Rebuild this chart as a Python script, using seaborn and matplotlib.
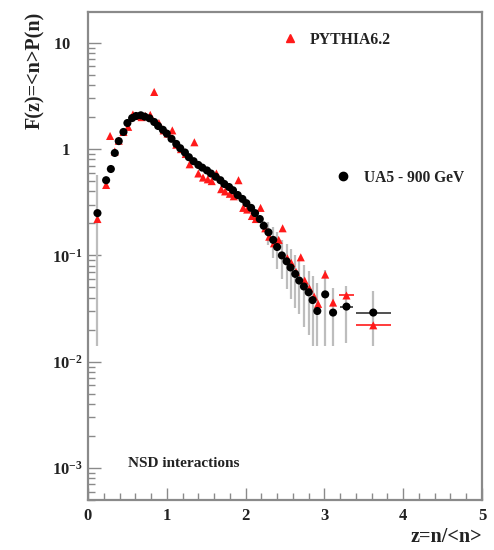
import numpy as np
import pandas as pd
import matplotlib
matplotlib.use("Agg")
import matplotlib.pyplot as plt
import matplotlib.transforms as mtransforms
import seaborn as sns
from matplotlib.ticker import FixedLocator, FixedFormatter, MultipleLocator, LogLocator, NullFormatter
from matplotlib.lines import Line2D

# ---------------- data ----------------
ua5_z = [0.12, 0.23, 0.29, 0.34, 0.39, 0.45, 0.50, 0.56, 0.61, 0.67, 0.72, 0.78, 0.84, 0.89,
         0.95, 1.00, 1.06, 1.12, 1.17, 1.23, 1.28, 1.34, 1.40, 1.45, 1.51, 1.56, 1.62, 1.68,
         1.73, 1.79, 1.84, 1.90, 1.96, 2.01, 2.07, 2.12, 2.18, 2.23, 2.29, 2.35, 2.40, 2.46,
         2.52, 2.57, 2.63, 2.68, 2.74, 2.80, 2.85, 2.91, 3.01, 3.11, 3.28, 3.62]
ua5_F = [0.25, 0.51, 0.65, 0.92, 1.19, 1.45, 1.76, 1.96, 2.05, 2.08, 2.02, 1.95, 1.80, 1.65,
         1.52, 1.40, 1.25, 1.12, 1.02, 0.93, 0.84, 0.77, 0.71, 0.67, 0.63, 0.59, 0.55, 0.51,
         0.47, 0.44, 0.41, 0.37, 0.34, 0.31, 0.28, 0.25, 0.22, 0.19, 0.165, 0.14, 0.12, 0.10,
         0.088, 0.077, 0.067, 0.058, 0.051, 0.045, 0.038, 0.030, 0.043, 0.029, 0.033, 0.029]
ua5_yerr = [0.32, 0.02, 0.02, 0.02, 0.02, 0.02, 0.02, 0.02, 0.02, 0.02, 0.02, 0.02, 0.02, 0.02,
            0.02, 0.02, 0.02, 0.02, 0.02, 0.02, 0.02, 0.02, 0.02, 0.02, 0.02, 0.02, 0.02, 0.02,
            0.02, 0.02, 0.02, 0.02, 0.02, 0.02, 0.02, 0.02, 0.02, 0.02, 0.04, 0.045, 0.045, 0.04,
            0.04, 0.038, 0.035, 0.03, 0.03, 0.027, 0.026, 0.025, 0.03, 0.02, 0.018, 0.017]
ua5_xerr = [0]*52 + [0.08, 0.22]

py_z = [0.12, 0.23, 0.28, 0.34, 0.39, 0.45, 0.51, 0.57, 0.62, 0.68, 0.73, 0.79, 0.84, 0.90,
        0.96, 1.01, 1.07, 1.12, 1.18, 1.24, 1.29, 1.35, 1.40, 1.46, 1.52, 1.57, 1.63, 1.69,
        1.74, 1.80, 1.85, 1.91, 1.97, 2.02, 2.08, 2.13, 2.19, 2.25, 2.30, 2.36, 2.42, 2.47,
        2.53, 2.58, 2.64, 2.70, 2.75, 2.81, 2.87, 2.92, 3.01, 3.11, 3.28, 3.62]
py_F = [0.22, 0.46, 1.33, 0.95, 1.20, 1.45, 1.62, 2.12, 2.05, 2.00, 2.05, 2.10, 3.45, 1.76,
        1.50, 1.40, 1.50, 1.10, 1.00, 0.90, 0.72, 1.16, 0.59, 0.54, 0.52, 0.50, 0.59, 0.42,
        0.40, 0.38, 0.36, 0.51, 0.28, 0.27, 0.235, 0.22, 0.28, 0.18, 0.15, 0.13, 0.14, 0.18,
        0.094, 0.085, 0.070, 0.096, 0.058, 0.049, 0.041, 0.035, 0.066, 0.036, 0.042, 0.022]
py_xerr = [0]*52 + [0.10, 0.22]

series_names = ["PYTHIA6.2", "UA5 - 900 GeV"]
x_ticks = [0, 1, 2, 3, 4, 5]
y_ticks = [1e-3, 1e-2, 1e-1, 1, 10]
y_tick_labels = [r"$10^{-3}$", r"$10^{-2}$", r"$10^{-1}$", r"$1$", r"$10$"]

df = pd.concat([
    pd.DataFrame({"z": py_z, "F": py_F, "series": series_names[0]}),
    pd.DataFrame({"z": ua5_z, "F": ua5_F, "series": series_names[1]}),
], ignore_index=True)

# ---------------- style ----------------
sns.set_style("white")
plt.rcParams["font.family"] = ["Liberation Serif", "DejaVu Serif"]
plt.rcParams["font.weight"] = "bold"
plt.rcParams["mathtext.fontset"] = "custom"
plt.rcParams["mathtext.rm"] = "Liberation Serif:bold"
plt.rcParams["mathtext.it"] = "Liberation Serif:bold"
plt.rcParams["mathtext.bf"] = "Liberation Serif:bold"

RED = "#ff1a1a"
GRAY = "#bdbdbd"
AX = "#8a8a8a"
TXT = "#222222"

fig = plt.figure(figsize=(4.94, 5.5), dpi=100)
ax = fig.add_axes([88/494, 1-500/550, (482-88)/494, (500-12)/550])
ax.set_yscale("log")

# error bars
ua5_F_arr = np.array(ua5_F)
ua5_yerr_arr = np.array(ua5_yerr)
lo = np.minimum(ua5_yerr_arr, ua5_F_arr - 0.014)
ax.errorbar(ua5_z, ua5_F, yerr=[lo, ua5_yerr_arr], fmt="none", ecolor=GRAY, elinewidth=1.6, capsize=0, zorder=1)
ax.errorbar(ua5_z, ua5_F, xerr=ua5_xerr, fmt="none", ecolor="#333333", elinewidth=1.2, capsize=0, zorder=1)
ax.errorbar(py_z, py_F, xerr=py_xerr, fmt="none", ecolor=RED, elinewidth=1.2, capsize=0, zorder=1)

sns.scatterplot(data=df, x="z", y="F", hue="series", style="series",
                palette={series_names[0]: RED, series_names[1]: "black"},
                markers={series_names[0]: "^", series_names[1]: "o"},
                s=34, edgecolor="none", linewidth=0, legend=False, ax=ax, zorder=3)

ax.set_xlim(0, 5)
ax.set_ylim(5e-4, 19.5)

# axes frame
for side in ["top", "right", "left", "bottom"]:
    ax.spines[side].set_color(AX)
    ax.spines[side].set_linewidth(1.6)

ax.xaxis.set_major_locator(FixedLocator(x_ticks))
ax.xaxis.set_minor_locator(MultipleLocator(0.2))
ax.yaxis.set_major_locator(FixedLocator(y_ticks))
ax.yaxis.set_major_formatter(FixedFormatter(y_tick_labels))
ax.yaxis.set_minor_locator(LogLocator(base=10, subs=np.arange(2, 10)))
ax.yaxis.set_minor_formatter(NullFormatter())
ax.tick_params(axis="both", which="both", direction="in", color=AX, width=1.0,
               left=True, bottom=True, top=False, right=False, labelsize=12, labelcolor=TXT)
ax.tick_params(axis="both", which="major", length=9)
ax.tick_params(axis="both", which="minor", length=5)
ax.tick_params(axis="x", pad=6)
ax.tick_params(axis="y", pad=4)

# shift the plain "1" and "10" labels left so they line up like the reference
fig.canvas.draw()
for tick in ax.yaxis.get_major_ticks():
    if tick.get_loc() >= 1:
        lab = tick.label1
        lab.set_transform(lab.get_transform() +
                          mtransforms.ScaledTranslation(-12/100, 0, fig.dpi_scale_trans))

ax.set_xlabel("z=n/<n>", fontsize=14.5, fontweight="bold", loc="right", color=TXT)
ax.xaxis.set_label_coords(1.0, -0.056)
ax.set_ylabel("F(z)=<n>P(n)", fontsize=14.5, fontweight="bold", loc="top", color=TXT)
ax.yaxis.set_label_coords(-0.108, 1.0)

# legends
h1 = Line2D([], [], marker="^", color=RED, linestyle="none", markersize=6)
leg1 = ax.legend([h1], [series_names[0]], loc="center left", bbox_to_anchor=(0.494, 0.943),
                 frameon=False, handlelength=1.0, handletextpad=0.7, borderpad=0, borderaxespad=0,
                 prop={"family": "Liberation Serif", "weight": "bold", "size": 11.3})
for t in leg1.get_texts():
    t.set_color(TXT)
ax.add_artist(leg1)
h2 = Line2D([], [], marker="o", color="black", linestyle="none", markersize=6)
leg2 = ax.legend([h2], [series_names[1]], loc="center left", bbox_to_anchor=(0.628, 0.660),
                 frameon=False, handlelength=1.0, handletextpad=0.85, borderpad=0, borderaxespad=0,
                 prop={"family": "Liberation Serif", "weight": "bold", "size": 11.2})
for t in leg2.get_texts():
    t.set_color(TXT)

ax.text(0.1015, 0.0758, "NSD interactions", transform=ax.transAxes, ha="left", va="center",
        fontsize=11, fontweight="bold", color=TXT)

fig.savefig("out.png", dpi=100)
